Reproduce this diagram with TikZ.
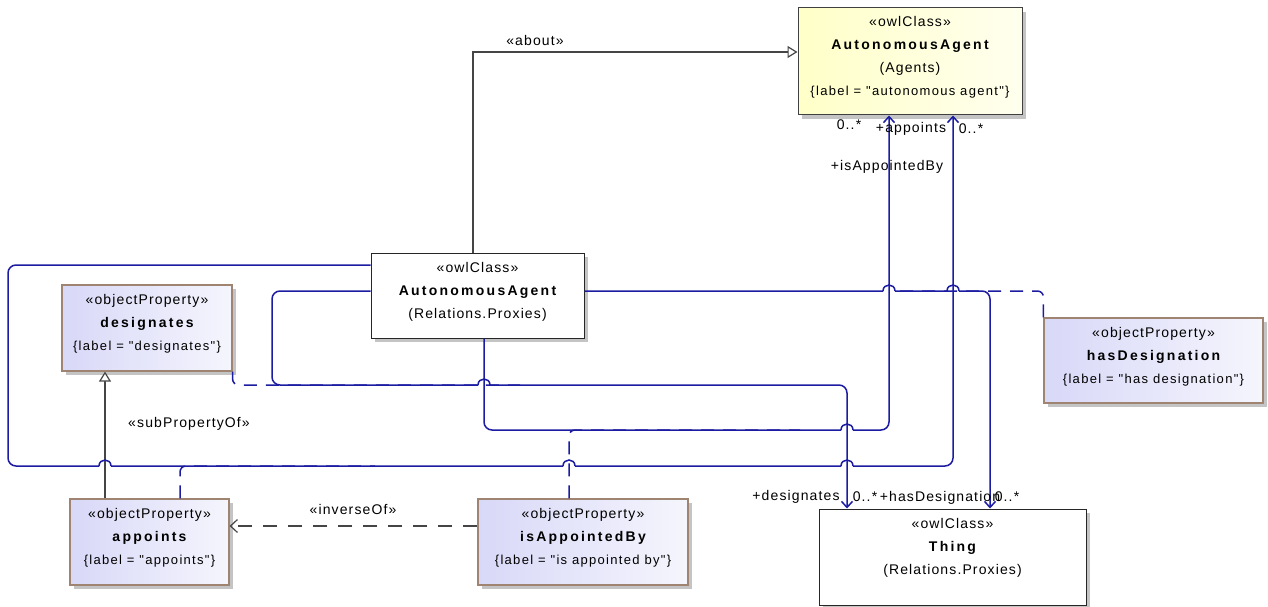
\documentclass[tikz,border=0pt]{standalone}
\usepackage{fontspec}
\setmainfont{Liberation Sans}
\newfontfamily\regfont[LetterSpace=8]{Liberation Sans}
\newfontfamily\namefont[LetterSpace=16]{Liberation Sans}
\newfontfamily\tagfont[LetterSpace=10]{Liberation Sans}
\usetikzlibrary{arrows.meta,shadows}
\definecolor{assocblue}{HTML}{1C1CA2}
\definecolor{connGray}{HTML}{454545}
\definecolor{propFill}{HTML}{D8D8F8}
\definecolor{propEdge}{HTML}{A08472}
\definecolor{agFill}{HTML}{FFFFC8}
\definecolor{shadowGray}{HTML}{C4C4C4}
\newcommand{\nm}[1]{{\namefont\bfseries #1}}
\newcommand{\lbl}[1]{{\tagfont\fontsize{13}{23}\selectfont #1}}
\tikzset{
  shadowed/.style={drop shadow={shadow xshift=4pt,shadow yshift=-4pt,fill=shadowGray,opacity=1}},
  clsbox/.style={draw=black!85,line width=1pt,fill=white,inner sep=0pt,shadowed},
  agbox/.style={draw=black!75,line width=1pt,left color=agFill,right color=agFill!30,inner sep=0pt,shadowed},
  propbox/.style={draw=propEdge,line width=1.2pt,left color=propFill,right color=propFill!25,inner sep=0pt,shadowed},
  txt/.style={font=\regfont\fontsize{14}{23}\selectfont,align=center,inner sep=0pt,text=black},
  lab/.style={font=\regfont\fontsize{14}{16}\selectfont,inner sep=0pt,text=black},
  assoc/.style={draw=assocblue,line width=1.5pt,rounded corners=8pt},
  assocarrow/.style={assoc,-{Straight Barb[length=6pt,width=11pt]}},
  linkdash/.style={draw=assocblue,line width=1.5pt,dash pattern=on 13pt off 9pt,rounded corners=6pt},
  genline/.style={draw=connGray,line width=1.2pt,-{Triangle[open,length=10pt,width=12pt,fill=white]}},
  invline/.style={draw=connGray,line width=1.2pt,dash pattern=on 14pt off 11pt,-{Straight Barb[length=7pt,width=13pt]}}
}
\begin{document}
\begin{tikzpicture}[x=1pt,y=-1pt]
\useasboundingbox[fill=white] (0,0) rectangle (1268,607);

% boxes
\node[agbox,minimum width=224pt,minimum height=107pt] (agA) at (910,61.5) {};
\node[clsbox,minimum width=213pt,minimum height=85pt] (agP) at (477.5,295.5) {};
\node[propbox,minimum width=170pt,minimum height=86pt] (desig) at (147,328) {};
\node[propbox,minimum width=219pt,minimum height=85pt] (hasD) at (1153.5,360.5) {};
\node[propbox,minimum width=159pt,minimum height=86pt] (appo) at (149.5,542) {};
\node[propbox,minimum width=210pt,minimum height=86pt] (isApp) at (583,542) {};
\node[clsbox,minimum width=267pt,minimum height=96pt] (thing) at (952.5,557) {};

% box texts
\node[txt] (agAt) at (910,57.5) {«owlClass»\\\nm{AutonomousAgent}\\(Agents)\\\lbl{\{label = "autonomous agent"\}}};
\node[txt] (agPt) at (477.5,292) {«owlClass»\\\nm{AutonomousAgent}\\(Relations.Proxies)};
\node[txt] (desigt) at (147,324) {«objectProperty»\\\nm{designates}\\\lbl{\{label = "designates"\}}};
\node[txt] (hasDt) at (1153.5,357) {«objectProperty»\\\nm{hasDesignation}\\\lbl{\{label = "has designation"\}}};
\node[txt] (appot) at (149.5,538) {«objectProperty»\\\nm{appoints}\\\lbl{\{label = "appoints"\}}};
\node[txt] (isAppt) at (583,538) {«objectProperty»\\\nm{isAppointedBy}\\\lbl{\{label = "is appointed by"\}}};
\node[txt] (thingt) at (952.5,548) {«owlClass»\\\nm{Thing}\\(Relations.Proxies)};

% about
\draw[genline] (agP.north -| 473,0) -- (473,52) -- (agA.west |- 0,52);
% subPropertyOf
\draw[genline] (appo.north -| 105,0) -- (desig.south -| 105,0);
% inverseOf
\draw[invline] (isApp.west |- 0,526) -- (appo.east |- 0,526);

% association lines (hops drawn as separate sub-paths)
\draw[assocarrow] (agP.west |- 0,265) -- (8,265) -- (8,466) -- (99,466)
  (99,466) .. controls (99,458) and (111,458) .. (111,466)
  (111,466) -- (563,466)
  (563,466) .. controls (563,458) and (575,458) .. (575,466)
  (575,466) -- (841,466)
  (841,466) .. controls (841,458) and (853,458) .. (853,466)
  (853,466) -- (953,466) -- (agA.south -| 953,0);
\draw[assocarrow] (agP.south -| 484,0) -- (484,430) -- (841,430)
  (841,430) .. controls (841,422) and (853,422) .. (853,430)
  (853,430) -- (889,430) -- (agA.south -| 889,0);
\draw[assocarrow] (agP.west |- 0,291) -- (272,291) -- (272,385) -- (478,385)
  (478,385) .. controls (478,377) and (490,377) .. (490,385)
  (490,385) -- (847,385) -- (thing.north -| 847,0);
\draw[assocarrow] (agP.east |- 0,291) -- (883,291)
  (883,291) .. controls (883,283) and (895,283) .. (895,291)
  (895,291) -- (947,291)
  (947,291) .. controls (947,283) and (959,283) .. (959,291)
  (959,291) -- (990,291) -- (thing.north -| 990,0);

% association class links
\draw[linkdash] (desig.south east) -- (desig.south east |- 0,385) -- (520,385);
\draw[linkdash] (hasD.north west) -- (hasD.north west |- 0,291) -- (893,291);
\draw[linkdash] (appo.north -| 180,0) -- (180,466) -- (375,466);
\draw[linkdash] (isApp.north -| 569,0) -- (569,430) -- (800,430);

% labels
\node[lab] (labAbout) at (535,40) {«about»};
\node[lab] (labSub) at (189,424) {«subPropertyOf»};
\node[lab] (labInv) at (353,509) {«inverseOf»};
\node[lab] (m1) at (849,125) {0..*};
\node[lab] (r1) at (911,129) {+appoints};
\node[lab] (m2) at (971,129) {0..*};
\node[lab] (r2) at (887,167) {+isAppointedBy};
\node[lab] (r3) at (796,497) {+designates};
\node[lab] (m3) at (865,497) {0..*};
\node[lab] (r4) at (940,498) {+hasDesignation};
\node[lab] (m4) at (1007,497) {0..*};
\end{tikzpicture}
\end{document}
